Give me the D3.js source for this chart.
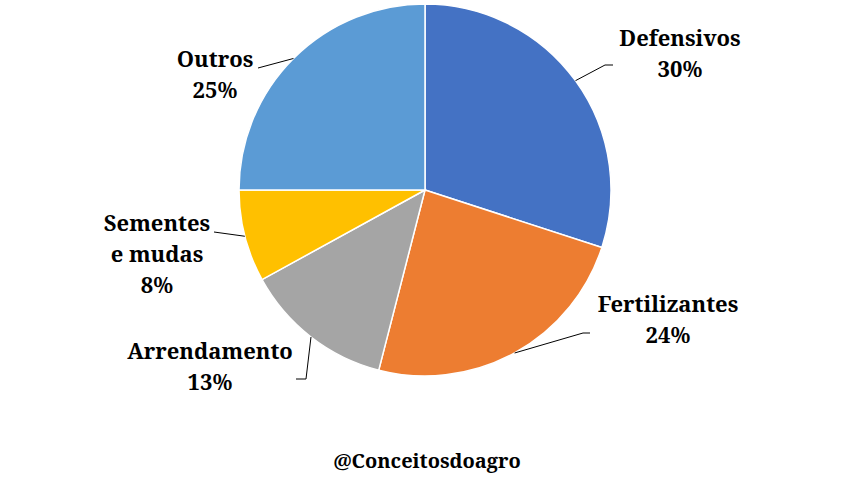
<!DOCTYPE html>
<html><head><meta charset="utf-8">
<script src="https://cdn.jsdelivr.net/npm/d3@7"></script>
<style>body{margin:0;background:#fff}svg{display:block}
text{font-family:"Noto Serif","DejaVu Serif",serif;font-weight:bold;fill:#000}</style>
</head><body>
<svg id="c" width="854" height="480"></svg>
<script>
const categories = ["Defensivos", "Fertilizantes", "Arrendamento", "Sementes e mudas", "Outros"];
const values = [30, 24, 13, 8, 25];
const colors = ["#4472C4", "#ED7D31", "#A5A5A5", "#FFC000", "#5B9BD5"];
const labelLines = [["Defensivos","30%"],["Fertilizantes","24%"],["Arrendamento","13%"],["Sementes","e mudas","8%"],["Outros","25%"]];
const footer = "@Conceitosdoagro";

const svg = d3.select("#c");
const cx = 425, cy = 190, r = 186;
const data = categories.map((c,i)=>({c, v:values[i], col:colors[i], lines:labelLines[i]}));
const pie = d3.pie().value(d=>d.v).sort(null);
const arcs = pie(data);
const arc = d3.arc().innerRadius(0).outerRadius(r);
const g = svg.append("g").attr("transform",`translate(${cx},${cy})`);
g.selectAll("path").data(arcs).enter().append("path")
  .attr("d",arc).attr("fill",d=>d.data.col).attr("stroke","#fff").attr("stroke-width",1.5);

const labelPos = [
  {x:680, y:46, elbow:[605,65], end:[613,65]},
  {x:668, y:312, elbow:[583,333], end:[590,333]},
  {x:210, y:359, elbow:[306,379], end:[296,379]},
  {x:157, y:231, elbow:[214,232], end:[214,232]},
  {x:215, y:67, elbow:[258,68], end:[258,68]}
];
const lh = 31;
arcs.forEach((a,i)=>{
  const m = (a.startAngle+a.endAngle)/2;
  const px = cx + r*Math.sin(m), py = cy - r*Math.cos(m);
  const p = labelPos[i];
  svg.append("polyline")
    .attr("points",[[px,py],p.elbow,p.end].map(q=>q.join(",")).join(" "))
    .attr("fill","none").attr("stroke","#000").attr("stroke-width",1);
  const t = svg.append("text").attr("text-anchor","middle").style("font-size","22px");
  a.data.lines.forEach((s,j)=>{
    t.append("tspan").attr("x",p.x).attr("y",p.y+j*lh).text(s);
  });
});
svg.append("text").attr("x",427).attr("y",468).attr("text-anchor","middle")
  .style("font-size","20px").text(footer);
</script>
</body></html>
